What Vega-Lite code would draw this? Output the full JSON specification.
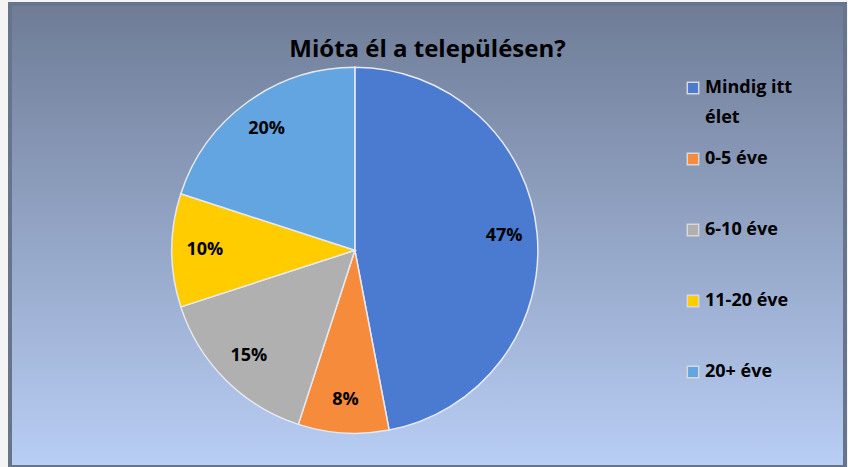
{
  "$schema": "https://vega.github.io/schema/vega-lite/v6.json",
  "width": 848,
  "height": 467,
  "autosize": {"type": "fit", "contains": "padding"},
  "padding": {"left": 10, "top": 4, "right": 3, "bottom": 0},
  "background": "#f4f4f4",
  "view": {
    "fill": {
      "gradient": "linear",
      "x1": 0, "y1": 0, "x2": 0, "y2": 1,
      "stops": [
        {"offset": 0, "color": "#6e7c96"},
        {"offset": 1, "color": "#b9cef5"}
      ]
    },
    "stroke": "#66748c",
    "strokeWidth": 4
  },
  "title": {
    "text": "Mióta él a településen?",
    "font": "Open Sans",
    "fontSize": 24,
    "fontWeight": "bold",
    "color": "#000000",
    "anchor": "middle",
    "offset": -58
  },
  "data": {
    "values": [
      {"kategoria": "Mindig itt élet", "ertek": 47, "cimke": "47%", "sorrend": 1},
      {"kategoria": "0-5 éve", "ertek": 8, "cimke": "8%", "sorrend": 2},
      {"kategoria": "6-10 éve", "ertek": 15, "cimke": "15%", "sorrend": 3},
      {"kategoria": "11-20 éve", "ertek": 10, "cimke": "10%", "sorrend": 4},
      {"kategoria": "20+ éve", "ertek": 20, "cimke": "20%", "sorrend": 5}
    ]
  },
  "encoding": {
    "theta": {"field": "ertek", "type": "quantitative", "stack": true},
    "order": {"field": "sorrend", "type": "quantitative"}
  },
  "layer": [
    {
      "mark": {
        "type": "arc",
        "radius": 183,
        "x": {"expr": "width*0.413"},
        "y": {"expr": "height*0.532"},
        "stroke": "#e6e9ef",
        "strokeWidth": 1.5
      },
      "encoding": {
        "color": {
          "field": "kategoria",
          "type": "nominal",
          "sort": ["Mindig itt élet", "0-5 éve", "6-10 éve", "11-20 éve", "20+ éve"],
          "scale": {
            "domain": ["Mindig itt élet", "0-5 éve", "6-10 éve", "11-20 éve", "20+ éve"],
            "range": ["#4a7bd1", "#f78b3c", "#b0b0b0", "#ffcc00", "#63a5e0"]
          },
          "legend": {
            "title": null,
            "orient": "none",
            "legendX": 674,
            "legendY": 75,
            "symbolType": "square",
            "symbolSize": 130,
            "symbolStrokeColor": "#d8d8d8",
            "symbolStrokeWidth": 1.5,
            "labelFont": "Open Sans",
            "labelFontSize": 18,
            "labelFontWeight": "bold",
            "labelColor": "#000000",
            "labelOffset": 3,
            "labelLimit": 200,
            "gridAlign": "all",
            "rowPadding": 23,
            "labelExpr": "datum.label == 'Mindig itt élet' ? ['Mindig itt', 'élet'] : datum.label",
            "encode": {
              "labels": {"update": {"lineHeight": {"value": 30}}}
            }
          }
        }
      }
    },
    {
      "mark": {
        "type": "text",
        "radius": 150,
        "x": {"expr": "width*0.413"},
        "y": {"expr": "height*0.532"},
        "font": "Open Sans",
        "fontSize": 18,
        "fontWeight": "bold",
        "color": "#000000"
      },
      "encoding": {
        "text": {"field": "cimke", "type": "nominal"}
      }
    }
  ]
}
